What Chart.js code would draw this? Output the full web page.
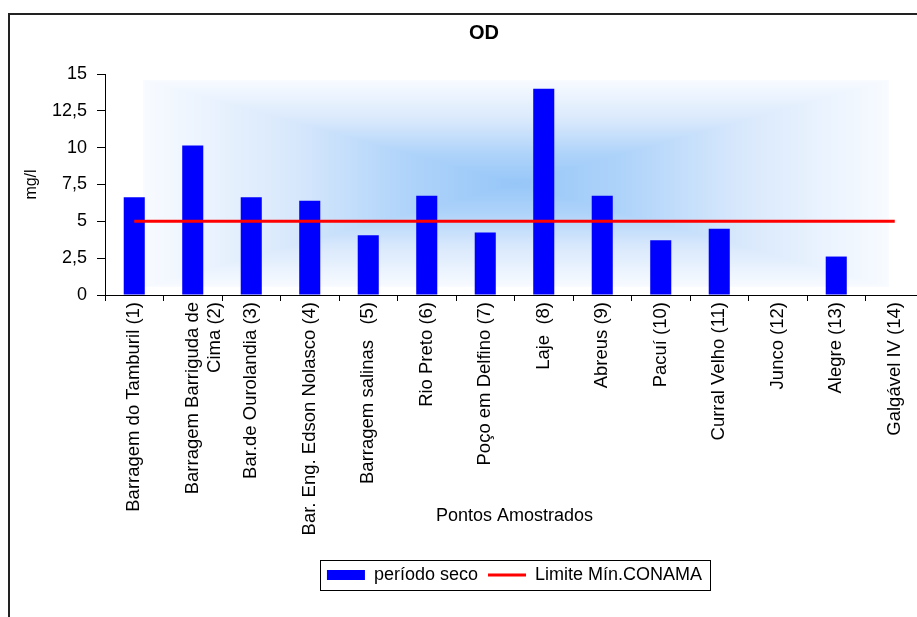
<!DOCTYPE html>
<html>
<head>
<meta charset="utf-8">
<script src="https://cdn.jsdelivr.net/npm/chart.js@4.4.1/dist/chart.umd.min.js"></script>
<style>
  body { margin: 0; overflow: hidden; background: #fff; }
</style>
</head>
<body>
<canvas id="odChart" width="940" height="617"></canvas>
<script>
// Pontos amostrados (eixo X)
const pontos = [
    'Barragem do Tamburil (1)',
    ['Barragem Barriguda de', 'Cima (2)'],
    'Bar.de Ourolandia (3)',
    'Bar. Eng. Edson Nolasco (4)',
    'Barragem salinas   (5)',
    'Rio Preto (6)',
    'Poço em Delfino (7)',
    'Laje  (8)',
    'Abreus (9)',
    'Pacuí (10)',
    'Curral Velho (11)',
    'Junco (12)',
    'Alegre (13)',
    'Galgável IV (14)'
];

// OD (mg/l) no período seco
const periodoSeco = [6.63, 10.14, 6.63, 6.4, 4.06, 6.73, 4.24, 14.0, 6.73, 3.72, 4.49, null, 2.61, null];

// Limite mínimo CONAMA
const limiteConama = [5, 5, 5, 5, 5, 5, 5, 5, 5, 5, 5, 5, 5, 5];

// Rótulos do eixo Y
const yTicks = ['0', '2,5', '5', '7,5', '10', '12,5', '15'];

Chart.defaults.font.family = "'Liberation Sans', Arial, sans-serif";
Chart.defaults.color = '#000';

// degradê "do centro" (estilo Excel), calculado pixel a pixel
const stops = [
    [0.0, [150, 198, 248]],
    [0.3, [176, 212, 250]],
    [0.6, [216, 232, 252]],
    [1.0, [248, 251, 255]]
];
function corEm(t) {
    for (let i = 1; i < stops.length; i++) {
        if (t <= stops[i][0]) {
            const [t0, c0] = stops[i - 1], [t1, c1] = stops[i];
            const k = (t - t0) / (t1 - t0);
            return c0.map((c, j) => c + (c1[j] - c) * k);
        }
    }
    return stops[stops.length - 1][1];
}
let fundoCache = null;
function fundoCanvas(w, h) {
    if (fundoCache && fundoCache.width === w && fundoCache.height === h) return fundoCache;
    const c = document.createElement('canvas');
    c.width = w; c.height = h;
    const g = c.getContext('2d');
    const img = g.createImageData(w, h);
    const hw = w / 2, hh = h / 2;
    for (let y = 0; y < h; y++) {
        for (let x = 0; x < w; x++) {
            const t = Math.min(1, Math.max(Math.abs(x + 0.5 - hw) / hw, Math.abs(y + 0.5 - hh) / hh));
            const col = corEm(t);
            const p = (y * w + x) * 4;
            img.data[p] = col[0];
            img.data[p + 1] = col[1];
            img.data[p + 2] = col[2];
            img.data[p + 3] = 255;
        }
    }
    g.putImageData(img, 0, 0);
    fundoCache = c;
    return c;
}

// moldura, fundo e caixa da legenda
const fundoPlugin = {
    id: 'fundo',
    beforeDraw(chart) {
        const ctx = chart.ctx;
        const a = chart.chartArea;
        ctx.save();
        ctx.strokeStyle = '#222';
        ctx.lineWidth = 2;
        ctx.strokeRect(9, 14, 2000, 2000);

        const x0 = Math.round(a.left + 38), x1 = Math.round(a.left + 784);
        const y0 = Math.round(a.top + 6), y1 = Math.round(a.bottom - 8);
        ctx.drawImage(fundoCanvas(x1 - x0, y1 - y0), x0, y0);
        ctx.restore();
    },
    afterDraw(chart) {
        const hb = chart.legend.legendHitBoxes;
        if (!hb || !hb.length) return;
        const last = hb[hb.length - 1];
        const ctx = chart.ctx;
        ctx.save();
        ctx.strokeStyle = '#000';
        ctx.lineWidth = 1;
        const l = Math.round(hb[0].left - 7) + 0.5;
        const r = Math.round(last.left + last.width + 8) + 0.5;
        const t = Math.round(hb[0].top - 6) + 0.5;
        const b = Math.round(hb[0].top + hb[0].height + 6) + 0.5;
        ctx.strokeRect(l, t, r - l, b - t);
        ctx.restore();
    }
};

const ctx = document.getElementById('odChart').getContext('2d');

new Chart(ctx, {
    type: 'bar',
    data: {
        labels: pontos,
        datasets: [
            {
                label: 'período seco',
                data: periodoSeco,
                backgroundColor: '#0000FF',
                borderWidth: 0,
                barPercentage: 0.36,
                categoryPercentage: 1,
                order: 2
            },
            {
                type: 'line',
                label: 'Limite Mín.CONAMA',
                data: limiteConama,
                borderColor: '#FF0000',
                backgroundColor: '#FF0000',
                borderWidth: 3,
                pointRadius: 0,
                fill: false,
                order: 1
            }
        ]
    },
    options: {
        responsive: false,
        animation: false,
        devicePixelRatio: 1,
        layout: { padding: { left: 44, right: 16, top: 0, bottom: 23 } },
        plugins: {
            title: {
                display: true,
                text: 'OD',
                font: { size: 20, weight: 'bold' },
                padding: { top: 21.5, bottom: 28.5 }
            },
            legend: {
                position: 'bottom',
                fullSize: false,
                labels: {
                    usePointStyle: true,
                    pointStyleWidth: 38,
                    boxHeight: 10,
                    padding: 10,
                    font: { size: 18 },
                    sort: (a, b) => a.datasetIndex - b.datasetIndex,
                    generateLabels: (chart) => Chart.defaults.plugins.legend.labels.generateLabels(chart).map(item => ({
                        ...item,
                        pointStyle: item.datasetIndex === 0 ? 'rect' : 'line',
                        lineWidth: item.datasetIndex === 0 ? 0 : 3
                    }))
                }
            },
            tooltip: { enabled: false }
        },
        scales: {
            x: {
                grid: { offset: true, drawOnChartArea: false, tickLength: 6, color: '#000' },
                border: { color: '#000', width: 1 },
                ticks: {
                    autoSkip: false,
                    minRotation: 90,
                    maxRotation: 90,
                    padding: 1,
                    font: { size: 18.5 }
                },
                title: {
                    display: true,
                    text: 'Pontos Amostrados',
                    font: { size: 18 },
                    padding: { top: 0, bottom: 29 }
                },
                afterFit: (scale) => { scale.height = 261; }
            },
            y: {
                min: 0,
                max: 15,
                grid: { drawOnChartArea: false, tickLength: 8, color: '#000' },
                border: { color: '#000', width: 1 },
                ticks: {
                    stepSize: 2.5,
                    padding: 10,
                    font: { size: 18 },
                    callback: (v) => yTicks[Math.round(v / 2.5)]
                },
                title: {
                    display: true,
                    text: 'mg/l',
                    font: { size: 16 },
                    padding: { top: -21.6, bottom: 0 }
                },
                afterFit: (scale) => { scale.width = 61; }
            }
        }
    },
    plugins: [fundoPlugin]
});
</script>
</body>
</html>
